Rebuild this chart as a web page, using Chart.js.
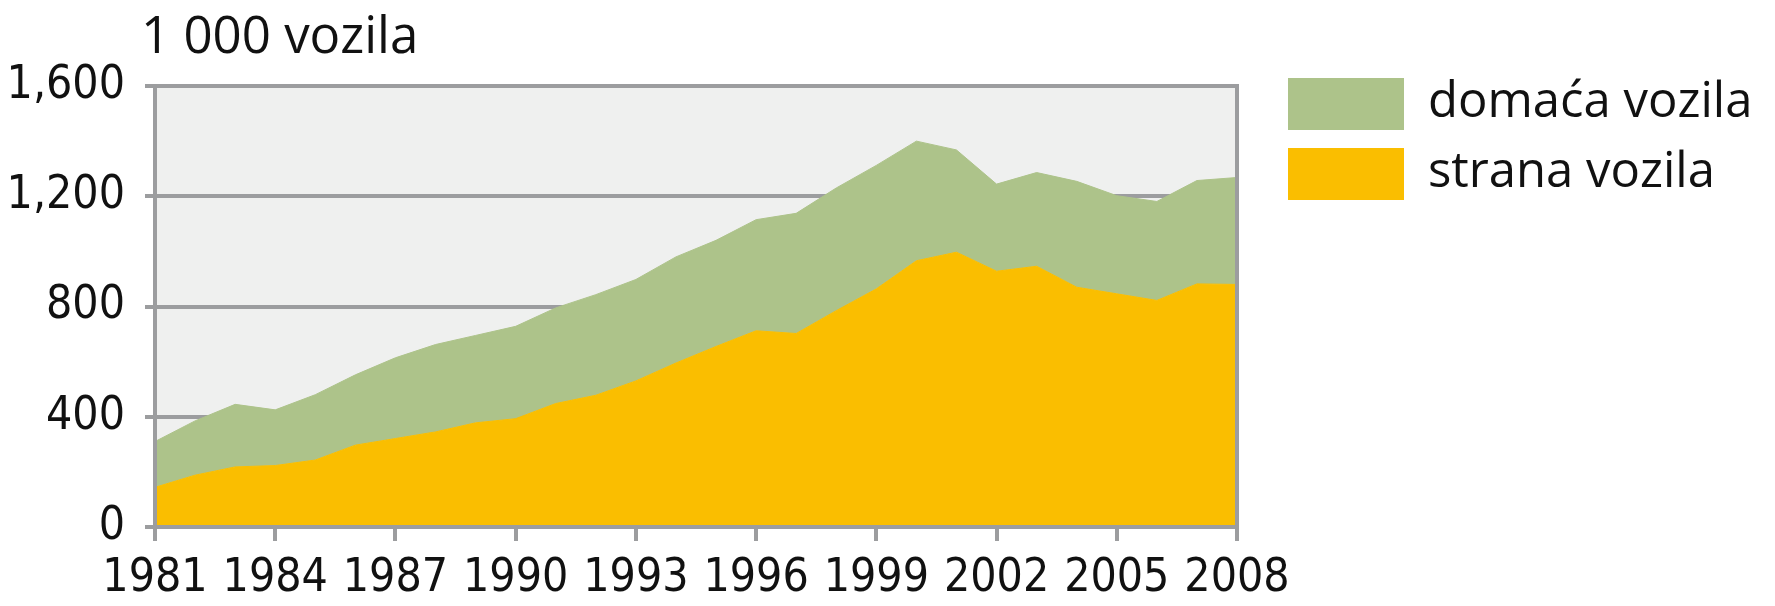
<!DOCTYPE html>
<html>
<head>
<meta charset="utf-8">
<script src="https://cdn.jsdelivr.net/npm/chart.js"></script>
<style>
  html, body { margin: 0; padding: 0; background: #fff; }
  canvas { display: block; }
</style>
</head>
<body>
<canvas id="chart" width="1775" height="606"></canvas>
<script>
const years = [1981, 1982, 1983, 1984, 1985, 1986, 1987, 1988, 1989, 1990,
  1991, 1992, 1993, 1994, 1995, 1996, 1997, 1998, 1999, 2000,
  2001, 2002, 2003, 2004, 2005, 2006, 2007, 2008];
const tickYears = [1981, 1984, 1987, 1990, 1993, 1996, 1999, 2002, 2005, 2008];
const yTicks = [0, 400, 800, 1200, 1600];

// thousands of vehicles
const strana = [144, 188, 218, 223, 243, 297, 321, 345, 378, 393,
  448, 478, 530, 595, 655, 712, 702, 785, 864, 966,
  997, 928, 946, 870, 846, 822, 882, 880];
const domaca = [166, 197, 227, 202, 237, 255, 293, 317, 317, 335,
  347, 365, 368, 385, 385, 403, 436, 445, 448, 434,
  371, 316, 340, 384, 356, 359, 375, 388];

const unitLabel = '1 000 vozila';
const seriesNames = ['strana vozila', 'domaća vozila'];

const grey = '#9c9d9f';
const textColor = '#111111';
const tickFont = { family: "'Liberation Sans Narrow', 'DejaVu Sans Condensed', 'Liberation Sans', Arial, sans-serif", size: 46 };
const textFont = "'Open Sans', 'Noto Sans', sans-serif";

const points = vals => years.map((y, i) => ({ x: y, y: vals[i] }));

// plot background, right frame, unit label and legend
const decor = {
  id: 'decor',
  beforeDraw(chart) {
    const { ctx, chartArea: a } = chart;
    ctx.save();
    ctx.fillStyle = '#eff0ef';
    ctx.fillRect(a.left, a.top, a.right - a.left, a.bottom - a.top);
    ctx.restore();
  },
  afterDatasetsDraw(chart) {
    const { ctx, chartArea: a } = chart;
    ctx.save();
    ctx.strokeStyle = grey;
    ctx.lineWidth = 4;
    ctx.beginPath();
    ctx.moveTo(a.right, a.top - 2);
    ctx.lineTo(a.right, a.bottom);
    ctx.stroke();
    ctx.restore();
  },
  afterDraw(chart) {
    const { ctx, chartArea: a } = chart;
    ctx.save();
    ctx.fillStyle = textColor;
    ctx.textBaseline = 'alphabetic';
    ctx.font = '51px ' + textFont;
    ctx.fillText(unitLabel, a.left - 14, a.top - 33);

    const sets = chart.data.datasets.slice().reverse();
    ctx.font = '49px ' + textFont;
    sets.forEach((ds, i) => {
      const top = a.top - 8 + i * 70;
      ctx.fillStyle = ds.backgroundColor;
      ctx.fillRect(a.right + 51, top, 116, 52);
      ctx.fillStyle = textColor;
      ctx.fillText(ds.label, a.right + 191, top + 39);
    });
    ctx.restore();
  }
};

new Chart(document.getElementById('chart'), {
  type: 'line',
  data: {
    datasets: [
      {
        label: seriesNames[0],
        data: points(strana),
        backgroundColor: '#fabe00',
        borderColor: '#fabe00',
        borderWidth: 1,
        fill: 'origin'
      },
      {
        label: seriesNames[1],
        data: points(domaca),
        backgroundColor: '#adc38a',
        borderColor: '#adc38a',
        borderWidth: 1,
        fill: '-1'
      }
    ]
  },
  options: {
    responsive: false,
    animation: false,
    layout: { padding: { top: 86, right: 538, left: 0, bottom: 0 } },
    elements: { point: { radius: 0 }, line: { tension: 0 } },
    plugins: { legend: { display: false }, tooltip: { enabled: false } },
    scales: {
      x: {
        type: 'linear',
        min: years[0],
        max: years[years.length - 1],
        afterBuildTicks: scale => { scale.ticks = tickYears.map(v => ({ value: v })); },
        afterFit: scale => { scale.height = 79; },
        ticks: {
          color: textColor,
          font: tickFont,
          padding: 10,
          maxRotation: 0,
          autoSkip: false,
          callback: v => String(v)
        },
        grid: { drawOnChartArea: false, color: grey, lineWidth: 4, tickLength: 14 },
        border: { color: grey, width: 4, z: 1 }
      },
      y: {
        stacked: true,
        min: 0,
        max: 1600,
        afterBuildTicks: scale => { scale.ticks = yTicks.map(v => ({ value: v })); },
        afterFit: scale => { scale.width = 155; },
        ticks: {
          color: textColor,
          font: tickFont,
          padding: 20,
          callback: v => v.toLocaleString('en-US')
        },
        grid: { color: grey, lineWidth: 4, tickLength: 10 },
        border: { color: grey, width: 4, z: 1 }
      }
    }
  },
  plugins: [decor]
});
</script>
</body>
</html>
